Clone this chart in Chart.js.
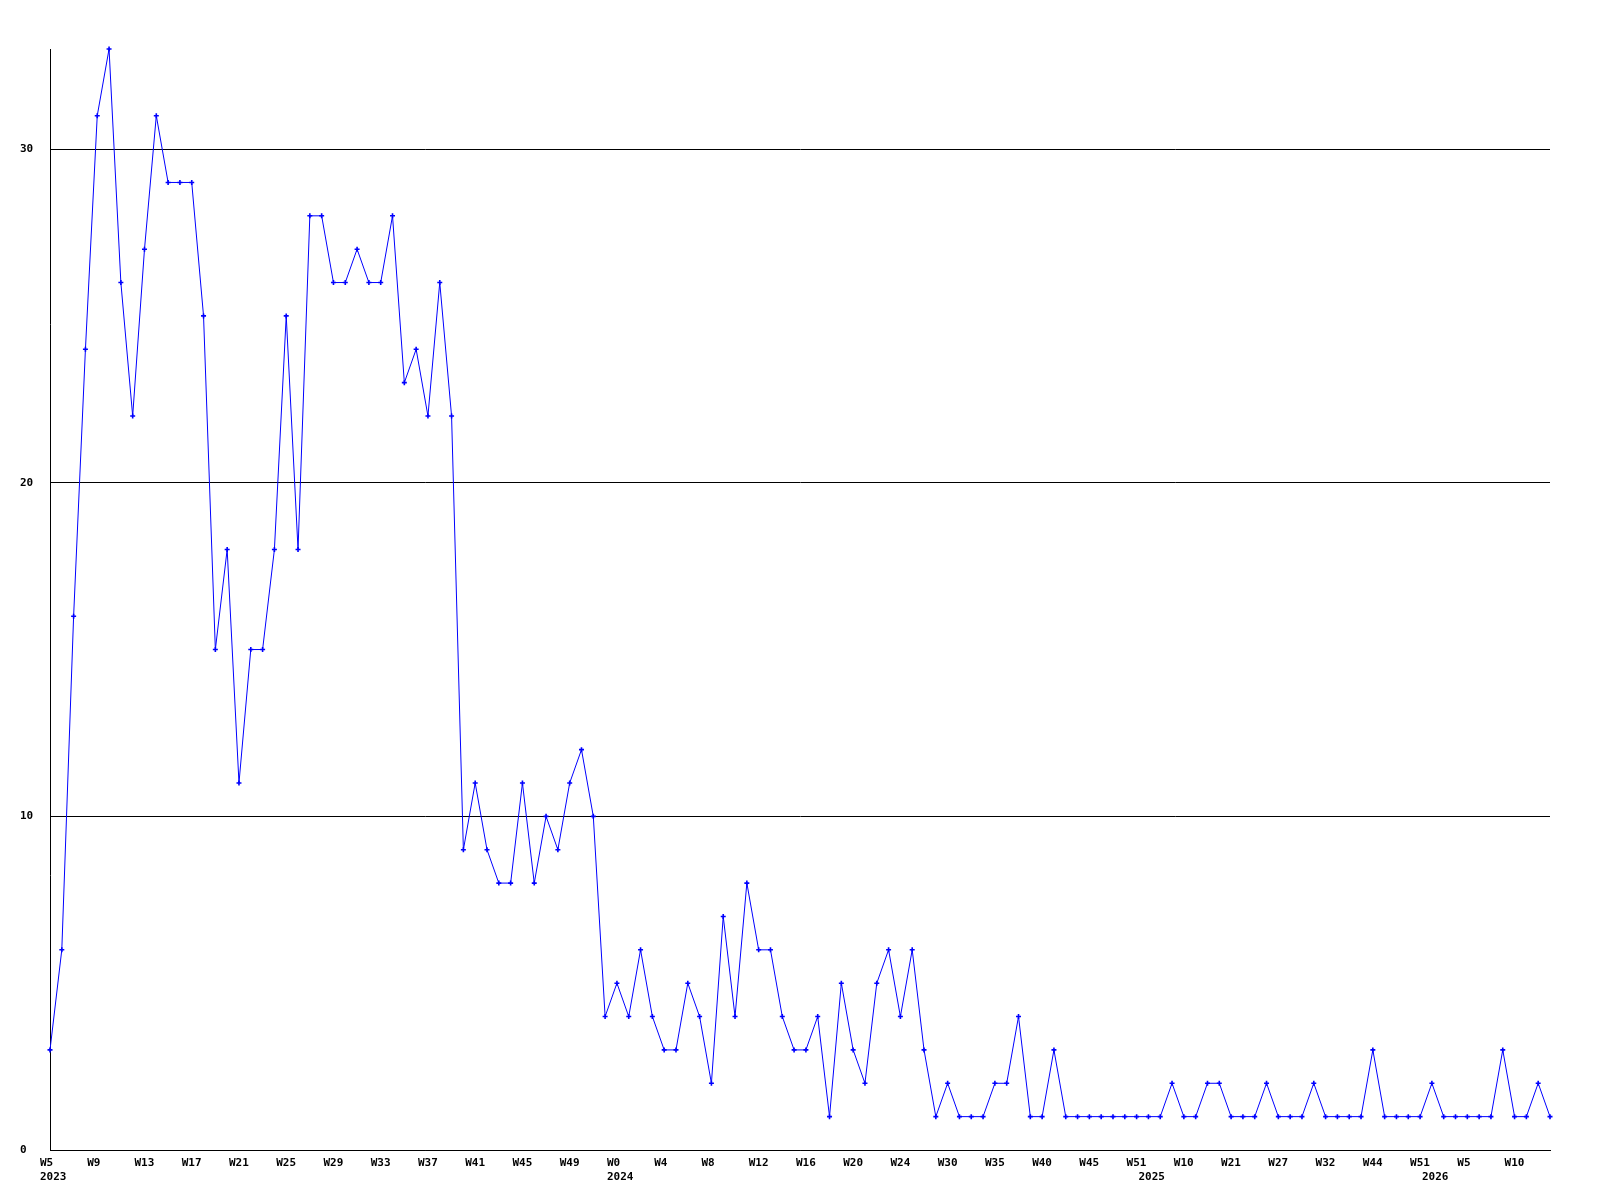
<!DOCTYPE html>
<html>
<head>
<meta charset="utf-8">
<script src="https://cdn.jsdelivr.net/npm/chart.js@4"></script>
<style>
  html, body { margin: 0; padding: 0; background: #fff; }
  #wrap { width: 1600px; height: 1200px; }
</style>
</head>
<body>
<div id="wrap"><canvas id="weekChart" width="1600" height="1200"></canvas></div>
<script>
// weekly counts, W5 2023 .. W13 2026
const weekLabels = [
  "W5","W6","W7","W8","W9","W10","W11","W12","W13","W14","W15","W16",
  "W17","W18","W19","W20","W21","W22","W23","W24","W25","W26","W27","W28",
  "W29","W30","W31","W32","W33","W34","W35","W36","W37","W38","W39","W40",
  "W41","W42","W43","W44","W45","W46","W47","W48","W49","W50","W51","W52",
  "W0","W1","W2","W3","W4","W5","W6","W7","W8","W9","W10","W11",
  "W12","W13","W14","W15","W16","W17","W18","W19","W20","W21","W22","W23",
  "W24","W26","W27","W29","W30","W31","W33","W34","W35","W37","W38","W39",
  "W40","W41","W43","W44","W45","W47","W48","W50","W51",
  "W1","W4","W7","W10","W12","W15","W18","W21","W22","W24","W26","W27",
  "W28","W30","W31","W32","W35","W38","W41","W44","W46","W48","W50","W51",
  "W1","W2","W3","W5","W6","W7","W9","W10","W11","W12","W13"
];

const counts = [
  3, 6, 16, 24, 31, 33, 26, 22, 27, 31, 29, 29,
  29, 25, 15, 18, 11, 15, 15, 18, 25, 18, 28, 28,
  26, 26, 27, 26, 26, 28, 23, 24, 22, 26, 22, 9,
  11, 9, 8, 8, 11, 8, 10, 9, 11, 12, 10, 4,
  5, 4, 6, 4, 3, 3, 5, 4, 2, 7, 4, 8,
  6, 6, 4, 3, 3, 4, 1, 5, 3, 2, 5, 6,
  4, 6, 3, 1, 2, 1, 1, 1, 2, 2, 4, 1,
  1, 3, 1, 1, 1, 1, 1, 1, 1, 1, 1, 2,
  1, 1, 2, 2, 1, 1, 1, 2, 1, 1, 1, 2,
  1, 1, 1, 1, 3, 1, 1, 1, 1, 2, 1, 1,
  1, 1, 1, 3, 1, 1, 2, 1
];

// where each year starts on the x axis
const yearIdx = [0, 48, 93, 117];
const yearLabels = ["2023", "2024", "2025", "2026"];

const yTicks = [0, 10, 20, 30];
const labelEvery = 4;

const tickFont = { family: "'DejaVu Sans Mono', monospace", size: 11, weight: "bold", lineHeight: "14px" };

const ctx = document.getElementById("weekChart").getContext("2d");
const weekChart = new Chart(ctx, {
  type: "line",
  data: {
    labels: weekLabels,
    datasets: [
      {
        label: "count",
        data: counts,
        borderColor: "#0000ff",
        backgroundColor: "#0000ff",
        borderWidth: 1,
        tension: 0,
        pointStyle: "cross",
        pointRadius: 2.5,
        pointBorderWidth: 1.6,
        pointBorderColor: "#0000ff",
        clip: false,
      },
    ],
  },
  options: {
    responsive: false,
    animation: false,
    layout: {
      padding: { left: 20, right: 50, top: 49, bottom: 0 },
    },
    plugins: {
      legend: { display: false },
      tooltip: { enabled: false },
    },
    scales: {
      x: {
        offset: false,
        grid: { display: false, drawTicks: false },
        border: { display: true, color: "#000", width: 1 },
        ticks: {
          autoSkip: false,
          maxRotation: 0,
          minRotation: 0,
          align: "start",
          labelOffset: -10,
          padding: 6,
          color: "#000",
          font: tickFont,
          callback: (val, i) => {
            const w = i % labelEvery === 0 ? weekLabels[i] : "";
            const y = yearIdx.indexOf(i);
            if (y >= 0) return [w, yearLabels[y]];
            return w;
          },
        },
        afterFit: (scale) => {
          scale.height = 50;
        },
      },
      y: {
        min: 0,
        max: 33,
        grid: { color: "#000", lineWidth: 1, drawTicks: false },
        border: { display: true, color: "#000", width: 1 },
        ticks: {
          crossAlign: "far",
          color: "#000",
          font: tickFont,
        },
        afterBuildTicks: (scale) => {
          scale.ticks = yTicks.map((v) => ({ value: v }));
        },
        afterFit: (scale) => {
          scale.width = 30;
        },
      },
    },
  },
});
</script>
</body>
</html>
